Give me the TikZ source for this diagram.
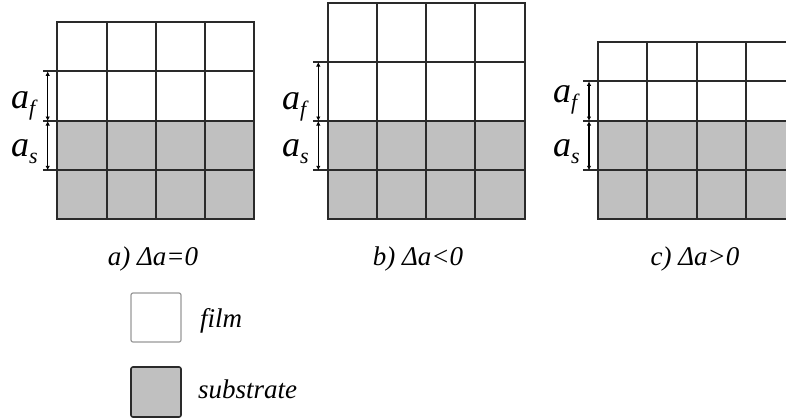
\documentclass[tikz,border=0pt]{standalone}
\usepackage{fontspec}
\setmainfont{Liberation Serif}
\usetikzlibrary{arrows.meta}
\definecolor{gridline}{HTML}{2A2A2A}
\definecolor{subgray}{HTML}{C0C0C0}
\tikzset{
  gline/.style={draw=gridline, line width=1.8pt},
  dimarrow/.style={draw=black, line width=1.1pt, {Latex[length=4.5pt,width=4.5pt]}-{Latex[length=4.5pt,width=4.5pt]}},
  biglabel/.style={anchor=base west, inner sep=0pt, font=\fontsize{36}{36}\selectfont\itshape},
  caption/.style={anchor=base, inner sep=0pt, font=\fontsize{27}{27}\selectfont\itshape},
  legendtext/.style={anchor=base west, inner sep=0pt, font=\fontsize{27}{27}\selectfont\itshape},
}
\newcommand{\afl}{a\raisebox{-0.22em}{\fontsize{22}{22}\selectfont f}}
\newcommand{\asl}{a\raisebox{-0.22em}{\fontsize{22}{22}\selectfont s}}
\begin{document}
\begin{tikzpicture}[x=1pt,y=-1pt]
\useasboundingbox (0,0) rectangle (786,418);
\clip (0,0) rectangle (786,418);
% ---------- grid a ----------
\fill[subgray] (57,121) rectangle (254.3,219);
\draw[gline] (57,22) rectangle (254.3,219);
\foreach \x in {106.7,155.7,204.7} \draw[gline] (\x,22) -- (\x,219);
\draw[gline] (43,71.3) -- (254.3,71.3);
\draw[gline] (43,121) -- (254.3,121);
\draw[gline] (43,170.3) -- (254.3,170.3);
\coordinate (a1) at (47.7,71.3);
\coordinate (a2) at (47.7,121);
\coordinate (a3) at (47.7,170.3);
\draw[dimarrow] (a1) -- (a2);
\draw[dimarrow] (a2) -- (a3);
\node[biglabel] (laf) at (11,108) {\afl};
\node[biglabel] (las) at (11,156) {\asl};
\node[caption] (capa) at (153,265) {a) Δa=0};
% ---------- grid b ----------
\fill[subgray] (328.3,121) rectangle (525,219);
\draw[gline] (328.3,2.7) rectangle (525,219);
\foreach \x in {376.7,426,475} \draw[gline] (\x,2.7) -- (\x,219);
\draw[gline] (313,62) -- (525,62);
\draw[gline] (313,121) -- (525,121);
\draw[gline] (313,170.3) -- (525,170.3);
\coordinate (b1) at (318.3,62);
\coordinate (b2) at (318.3,121);
\coordinate (b3) at (318.3,170.3);
\draw[dimarrow] (b1) -- (b2);
\draw[dimarrow] (b2) -- (b3);
\node[biglabel] (lbf) at (282,109) {\afl};
\node[biglabel] (lbs) at (282,156) {\asl};
\node[caption] (capb) at (418,265) {b) Δa<0};
% ---------- grid c ----------
\fill[subgray] (598.3,121) rectangle (795,219);
\draw[gline] (598.3,41.7) rectangle (795,219);
\foreach \x in {647.3,696.7,746} \draw[gline] (\x,41.7) -- (\x,219);
\draw[gline] (583,81.3) -- (795,81.3);
\draw[gline] (583,121) -- (795,121);
\draw[gline] (583,170.3) -- (795,170.3);
\coordinate (c1) at (589,81.3);
\coordinate (c2) at (589,121);
\coordinate (c3) at (589,170.3);
\draw[dimarrow] (c1) -- (c2);
\draw[dimarrow] (c2) -- (c3);
\node[biglabel] (lcf) at (553,102) {\afl};
\node[biglabel] (lcs) at (553,156) {\asl};
\node[caption] (capc) at (695,265) {c) Δa>0};
% ---------- legend ----------
\draw[draw=gray!80, line width=1.2pt, rounded corners=2pt, fill=white] (131,293) rectangle (181,342);
\node[legendtext] (lfilm) at (200,327) {film};
\draw[draw=gridline, line width=1.6pt, rounded corners=2pt, fill=subgray] (131,367) rectangle (181,417);
\node[legendtext] (lsub) at (198,398) {substrate};
\end{tikzpicture}
\end{document}
